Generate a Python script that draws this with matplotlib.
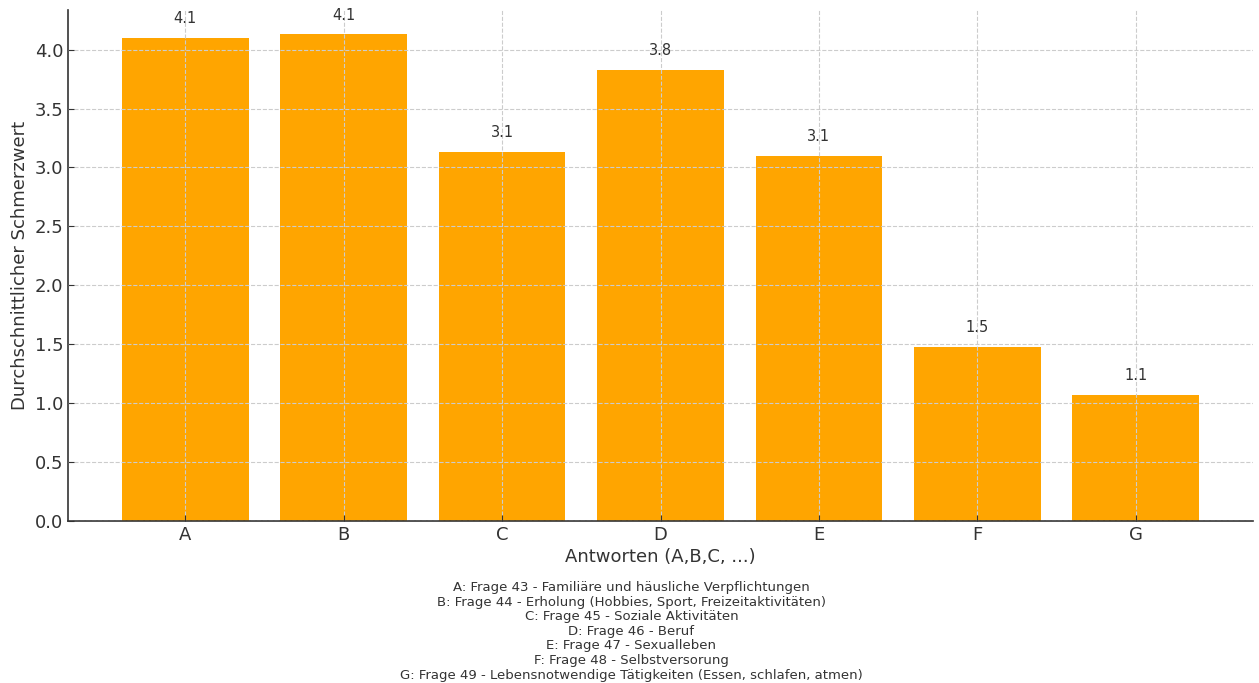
import matplotlib
matplotlib.use("Agg")
import matplotlib.pyplot as plt

# Mean pain score per answer group
categories = ["A", "B", "C", "D", "E", "F", "G"]
mean_scores = [4.10, 4.13, 3.13, 3.83, 3.10, 1.48, 1.07]
legend_lines = [
    "A: Frage 43 - Familiäre und häusliche Verpflichtungen",
    "B: Frage 44 - Erholung (Hobbies, Sport, Freizeitaktivitäten)",
    "C: Frage 45 - Soziale Aktivitäten",
    "D: Frage 46 - Beruf",
    "E: Frage 47 - Sexualleben",
    "F: Frage 48 - Selbstversorung",
    "G: Frage 49 - Lebensnotwendige Tätigkeiten (Essen, schlafen, atmen)",
]

text_color = "#333333"
plt.rcParams["font.family"] = "DejaVu Sans"

fig = plt.figure(figsize=(12.59, 6.83), dpi=100)
ax = fig.add_axes([68 / 1259, 1 - 521 / 683, (1253 - 68) / 1259, (521 - 10) / 683])

bars = ax.bar(categories, mean_scores, color="#FFA500", width=0.8)
for rect, val in zip(bars, mean_scores):
    ax.text(rect.get_x() + rect.get_width() / 2, val + 0.1, f"{val:.1f}",
            ha="center", va="bottom", fontsize=10.5, color=text_color)

ax.set_axisbelow(False)
ax.grid(True, linestyle="--", color="#cccccc", linewidth=0.8)
for side in ("top", "right"):
    ax.spines[side].set_visible(False)
for side in ("left", "bottom"):
    ax.spines[side].set_color(text_color)
    ax.spines[side].set_linewidth(1.2)

ax.tick_params(axis="both", direction="in", labelsize=13, colors=text_color,
               length=4)
ax.set_xlabel("Antworten (A,B,C, ...)", fontsize=13, color=text_color, labelpad=3)
ax.set_ylabel("Durchschnittlicher Schmerzwert", fontsize=13, color=text_color)

fig.text(0.5015, 1 - 581 / 683, "\n".join(legend_lines), ha="center", va="top",
         fontsize=9.5, color=text_color, linespacing=1.16)

fig.savefig("out.png", dpi=100)
